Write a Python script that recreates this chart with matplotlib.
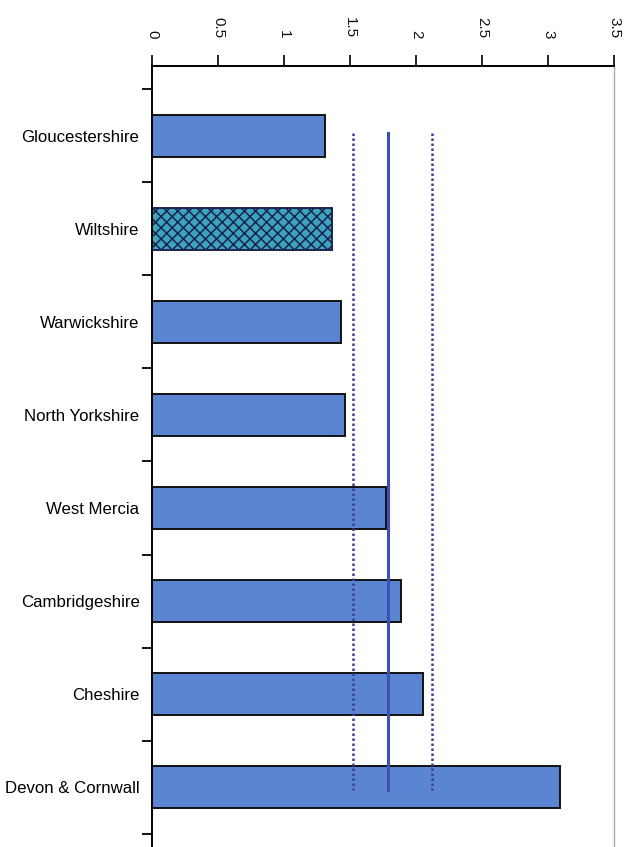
import matplotlib
matplotlib.use("Agg")
import matplotlib.pyplot as plt
import numpy as np

plt.rcParams['font.family'] = ['Liberation Sans', 'DejaVu Sans']
plt.rcParams['hatch.linewidth'] = 1.1

categories = ["Gloucestershire", "Wiltshire", "Warwickshire", "North Yorkshire",
              "West Mercia", "Cambridgeshire", "Cheshire", "Devon & Cornwall"]
values = [1.31, 1.36, 1.43, 1.46, 1.77, 1.89, 2.05, 3.09]
highlight = "Wiltshire"
mean_value = 1.79
lower_limit = 1.52
upper_limit = 2.12
x_ticks = [0, 0.5, 1, 1.5, 2, 2.5, 3, 3.5]
x_tick_labels = ["0", "0.5", "1", "1.5", "2", "2.5", "3", "3.5"]

fig = plt.figure(figsize=(6.34, 8.47), dpi=100)
ax = fig.add_axes([152/634, 0.0, (614-152)/634, 1 - 66/847])

pos = np.arange(len(categories))
for i, (c, v) in enumerate(zip(categories, values)):
    if c == highlight:
        ax.barh(i, v, height=0.45, color="#3ba3bd", edgecolor="#1a2350",
                hatch="xxx", linewidth=1.4, zorder=2)
    else:
        ax.barh(i, v, height=0.45, color="#5b84d2", edgecolor="#111111",
                linewidth=1.4, zorder=2)

ax.plot([mean_value, mean_value], [-0.03, 7.03], color="#3a52b4", lw=2.2, zorder=3)
for v in (lower_limit, upper_limit):
    ax.plot([v, v], [-0.03, 7.03], color="#3a3f9c", lw=1.8, ls=(0, (1.0, 1.0)), zorder=3)

ax.set_xlim(0, 3.5)
top_px, bot_px, c0_px, step = 66, 847, 136, 93.0
ax.set_ylim((bot_px - c0_px) / step, (top_px - c0_px) / step)

ax.xaxis.tick_top()
ax.set_xticks(x_ticks)
ax.set_xticklabels(x_tick_labels, rotation=-90, fontsize=11)
ax.tick_params(axis='x', direction='out', length=8, width=1.3, pad=12, colors="#111111")

ax.set_yticks(pos)
ax.set_yticklabels(categories, fontsize=12.1)
ax.set_yticks(np.arange(-0.5, 8.0, 1.0), minor=True)
ax.tick_params(axis='y', which='major', length=0, pad=9)
ax.tick_params(axis='y', which='minor', direction='out', length=7, width=1.3)

ax.spines['bottom'].set_visible(False)
ax.spines['top'].set_linewidth(1.4)
ax.spines['left'].set_linewidth(1.4)
ax.spines['right'].set_color("#a8a8cc")
ax.spines['right'].set_linewidth(1.0)

fig.savefig("out.png", dpi=100)
